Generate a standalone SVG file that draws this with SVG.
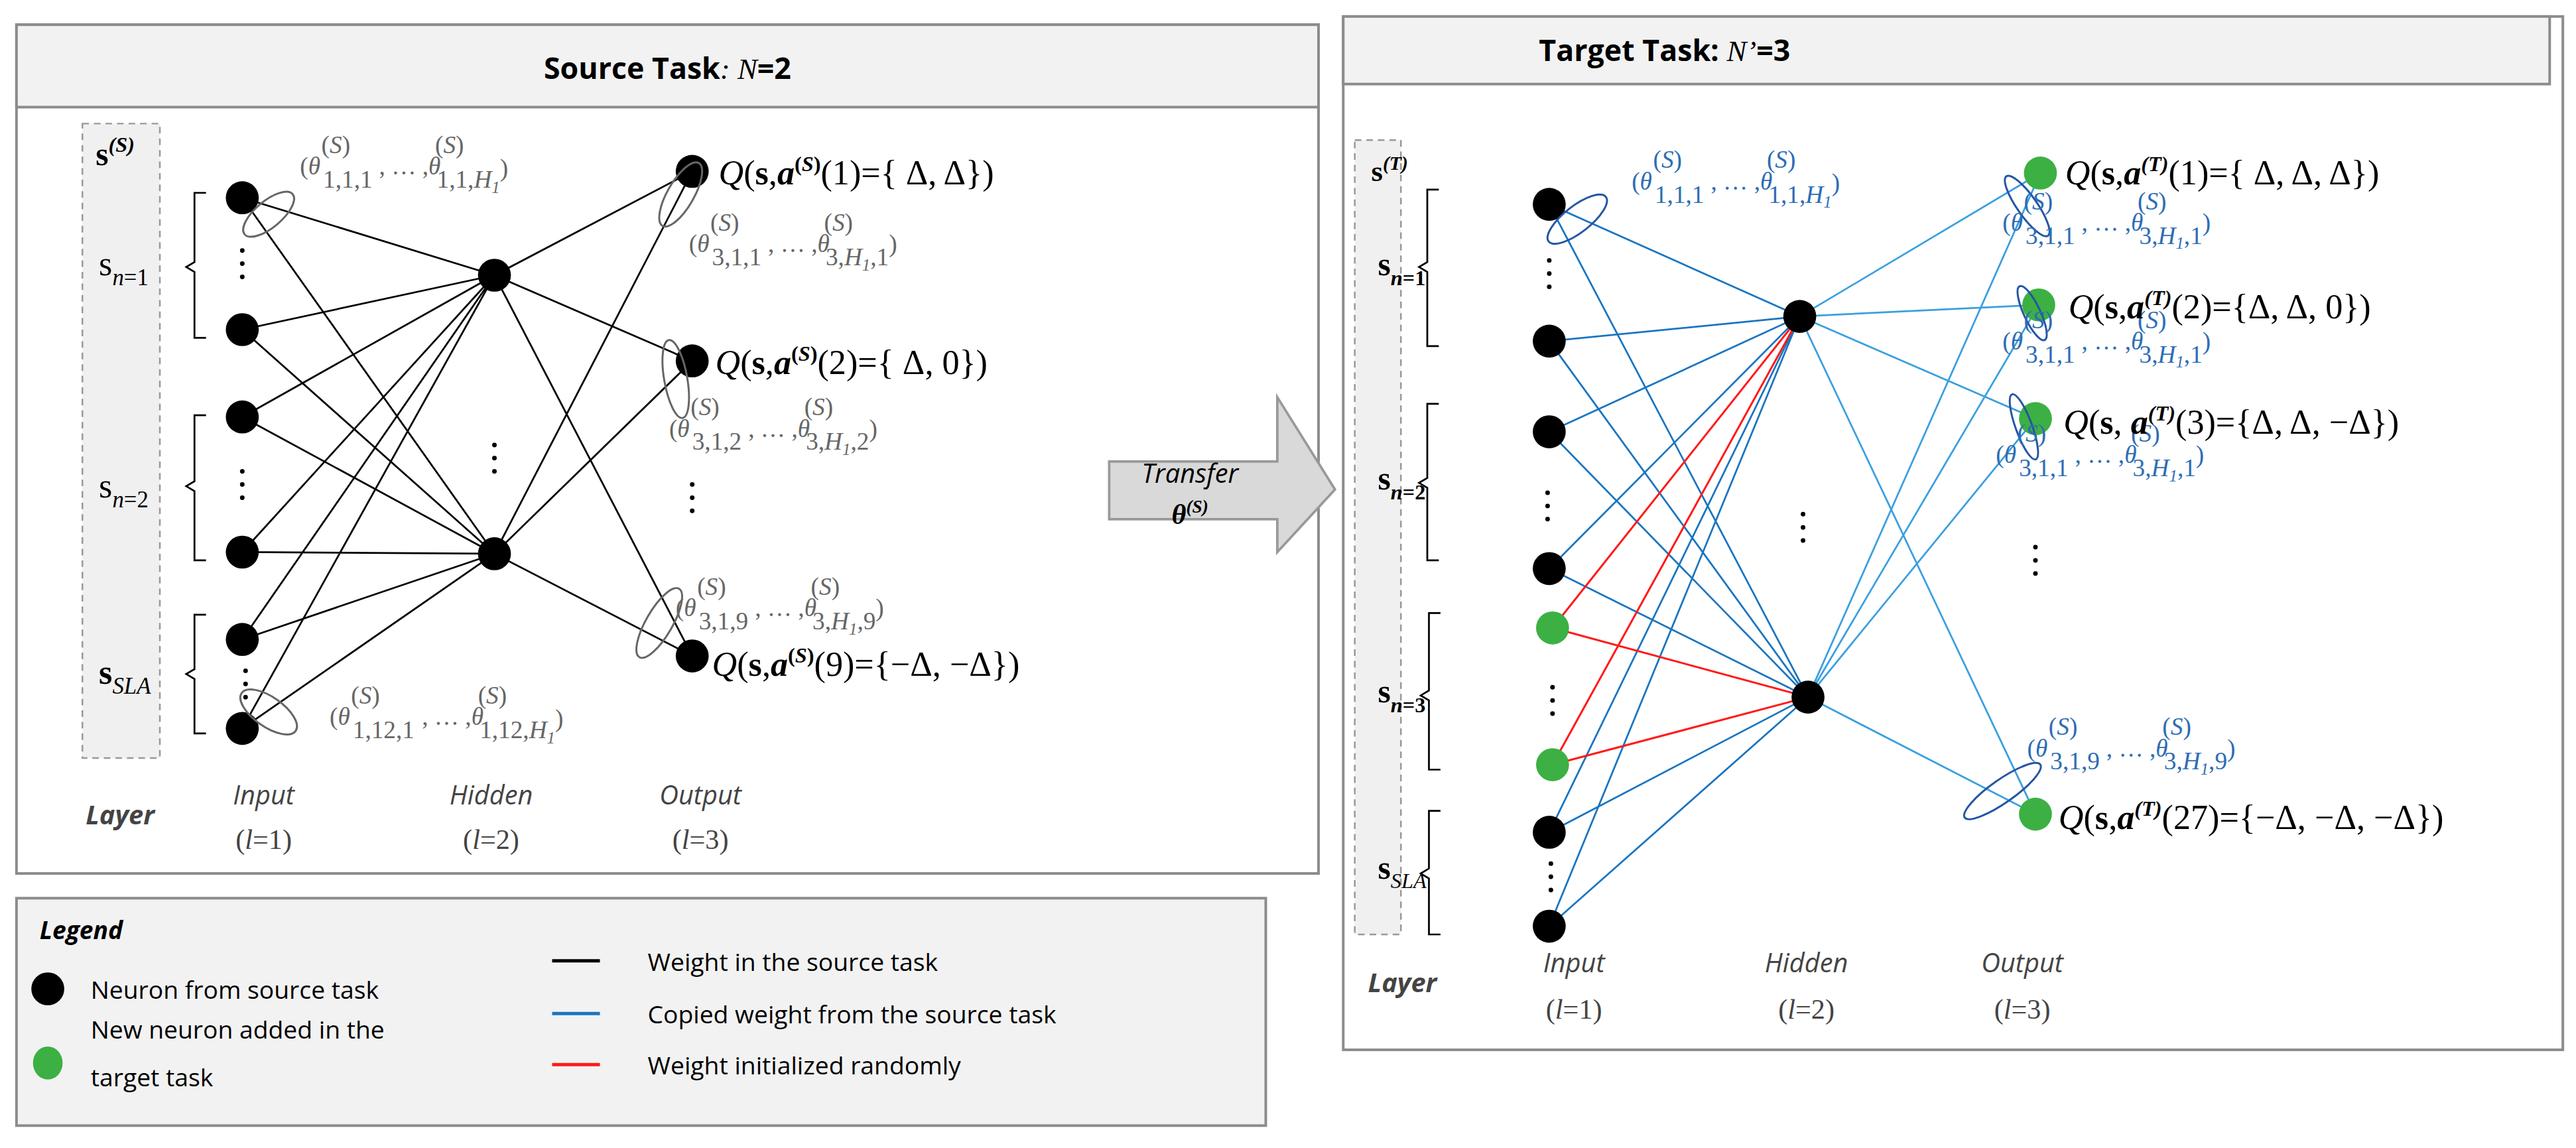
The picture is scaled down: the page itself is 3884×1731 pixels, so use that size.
<svg xmlns="http://www.w3.org/2000/svg" width="3884" height="1731" viewBox="0 0 3884 1731">
<style>
.box{fill:#fff;stroke:#8c8c8c;stroke-width:1.6}
.hdr{fill:#f2f2f2;stroke:#8c8c8c;stroke-width:1.6}
.dash{fill:#f0f0f0;stroke:#999;stroke-width:1;stroke-dasharray:4 3}
.nb{fill:#000}.ng{fill:#3cb043}
.wk{stroke:#000;stroke-width:1.1;fill:none}
.wb{stroke:#1a75c0;stroke-width:1.1;fill:none}
.wl{stroke:#3a9fe0;stroke-width:1.1;fill:none}
.wr{stroke:#ff1a1a;stroke-width:1.2;fill:none}
.br{stroke:#000;stroke-width:1.1;fill:none}
.el{fill:none;stroke:#666;stroke-width:1.2}
.elb{fill:none;stroke:#2456a4;stroke-width:1.2}
.sans{font-family:"Open Sans","Liberation Sans",sans-serif}
.ser{font-family:"Liberation Serif",serif}
.th{font-family:"Liberation Serif",serif;font-size:15px;fill:#666}
.thb{font-family:"Liberation Serif",serif;font-size:15px;fill:#2e6db4}
.q{font-family:"Liberation Serif",serif;font-size:21px;fill:#000}
.lay{font-family:"Open Sans","Liberation Sans",sans-serif;font-size:16px;font-style:italic;fill:#444}
.ll{font-family:"Liberation Serif",serif;font-size:17px;fill:#444}
</style>
<defs>
<g id="vd"><circle cx="0" cy="-8" r="1.4"/><circle cx="0" cy="0" r="1.4"/><circle cx="0" cy="8" r="1.4"/></g>
</defs>
<rect width="3884" height="1731" fill="#fff"/>
<g transform="scale(2.485)">
<g id="source-panel">
<rect class="box" x="10" y="15" width="790" height="515"/>
<rect class="hdr" x="10" y="15" width="790" height="50"/>
<text x="405" y="48" text-anchor="middle" class="sans" font-size="18" font-weight="bold">Source Task<tspan font-family="Liberation Serif" font-style="italic" font-weight="normal">: N</tspan>=2</text>
<rect class="dash" x="50" y="75" width="47" height="385"/>
<text x="58" y="100" class="ser" font-size="20" font-weight="bold">s<tspan dy="-8" font-size="13" font-style="italic">(S)</tspan></text>
<path class="br" d="M125,117 H118 V159 L113,162 L118,165 V205 H125"/>
<path class="br" d="M125,252 H118 V292 L113,295 L118,298 V340 H125"/>
<path class="br" d="M125,373 H118 V406 L113,409 L118,412 V445 H125"/>
<text x="60" y="167" class="ser" font-size="21">s<tspan dy="6" font-size="14"><tspan font-style="italic">n</tspan>=1</tspan></text>
<text x="60" y="302" class="ser" font-size="21">s<tspan dy="6" font-size="14"><tspan font-style="italic">n</tspan>=2</tspan></text>
<text x="60" y="415" class="ser" font-size="21" font-weight="bold">s<tspan dy="6" font-size="14" font-style="italic" font-weight="normal">SLA</tspan></text>
</g>
<g id="source-connectors">
<path class="wk" d="M147,120 L300,167 M147,120 L300,336 M147,200 L300,167 M147,200 L300,336 M147,253 L300,167 M147,253 L300,336 M147,335 L300,167 M147,335 L300,336 M147,388 L300,167 M147,388 L300,336 M147,442 L300,167 M147,442 L300,336 M300,167 L420,104 M300,167 L420,219 M300,167 L420,398 M300,336 L420,104 M300,336 L420,219 M300,336 L420,398"/>
</g>
<g id="source-nodes">
<circle class="nb" cx="147" cy="120" r="10"/><circle class="nb" cx="147" cy="200" r="10"/>
<circle class="nb" cx="147" cy="253" r="10"/><circle class="nb" cx="147" cy="335" r="10"/>
<circle class="nb" cx="147" cy="388" r="10"/><circle class="nb" cx="147" cy="442" r="10"/>
<circle class="nb" cx="300" cy="167" r="10"/><circle class="nb" cx="300" cy="336" r="10"/>
<circle class="nb" cx="420" cy="104" r="10"/><circle class="nb" cx="420" cy="219" r="10"/><circle class="nb" cx="420" cy="398" r="10"/>
<use href="#vd" x="147" y="160"/><use href="#vd" x="147" y="294"/><use href="#vd" x="149" y="415"/>
<use href="#vd" x="300" y="278"/><use href="#vd" x="420" y="302"/>
<ellipse class="el" cx="163" cy="130" rx="19" ry="8" transform="rotate(-40 163 130)"/>
<ellipse class="el" cx="413" cy="118" rx="22" ry="8" transform="rotate(-60 413 118)"/>
<ellipse class="el" cx="410" cy="230" rx="24" ry="7" transform="rotate(80 410 230)"/>
<ellipse class="el" cx="400" cy="378" rx="24" ry="8" transform="rotate(-60 400 378)"/>
<ellipse class="el" cx="163" cy="432" rx="20" ry="9" transform="rotate(35 163 432)"/>
</g>
<g id="source-labels">
<text x="182" y="106" class="th">(<tspan font-style="italic">θ</tspan></text><text x="195" y="93" class="th" font-size="12">(<tspan font-style="italic">S</tspan>)</text><text x="196" y="114" class="th">1,1,1</text><text x="230" y="106" class="th" font-size="11">, … ,<tspan font-size="15" font-style="italic">θ</tspan></text><text x="264" y="93" class="th" font-size="12">(<tspan font-style="italic">S</tspan>)</text><text x="265" y="114" class="th">1,1,<tspan font-style="italic">H</tspan><tspan font-size="10" font-style="italic" dy="3">1</tspan><tspan dy="-10">)</tspan></text>
<text x="418" y="153" class="th">(<tspan font-style="italic">θ</tspan></text><text x="431" y="140" class="th" font-size="12">(<tspan font-style="italic">S</tspan>)</text><text x="432" y="161" class="th">3,1,1</text><text x="466" y="153" class="th" font-size="11">, … ,<tspan font-size="15" font-style="italic">θ</tspan></text><text x="500" y="140" class="th" font-size="12">(<tspan font-style="italic">S</tspan>)</text><text x="501" y="161" class="th">3,<tspan font-style="italic">H</tspan><tspan font-size="10" font-style="italic" dy="3">1</tspan><tspan dy="-3">,1</tspan><tspan dy="-8">)</tspan></text>
<text x="406" y="265" class="th">(<tspan font-style="italic">θ</tspan></text><text x="419" y="252" class="th" font-size="12">(<tspan font-style="italic">S</tspan>)</text><text x="420" y="273" class="th">3,1,2</text><text x="454" y="265" class="th" font-size="11">, … ,<tspan font-size="15" font-style="italic">θ</tspan></text><text x="488" y="252" class="th" font-size="12">(<tspan font-style="italic">S</tspan>)</text><text x="489" y="273" class="th">3,<tspan font-style="italic">H</tspan><tspan font-size="10" font-style="italic" dy="3">1</tspan><tspan dy="-3">,2</tspan><tspan dy="-8">)</tspan></text>
<text x="410" y="374" class="th">(<tspan font-style="italic">θ</tspan></text><text x="423" y="361" class="th" font-size="12">(<tspan font-style="italic">S</tspan>)</text><text x="424" y="382" class="th">3,1,9</text><text x="458" y="374" class="th" font-size="11">, … ,<tspan font-size="15" font-style="italic">θ</tspan></text><text x="492" y="361" class="th" font-size="12">(<tspan font-style="italic">S</tspan>)</text><text x="493" y="382" class="th">3,<tspan font-style="italic">H</tspan><tspan font-size="10" font-style="italic" dy="3">1</tspan><tspan dy="-3">,9</tspan><tspan dy="-8">)</tspan></text>
<text x="200" y="440" class="th">(<tspan font-style="italic">θ</tspan></text><text x="213" y="427" class="th" font-size="12">(<tspan font-style="italic">S</tspan>)</text><text x="214" y="448" class="th">1,12,1</text><text x="256" y="440" class="th" font-size="11">, … ,<tspan font-size="15" font-style="italic">θ</tspan></text><text x="290" y="427" class="th" font-size="12">(<tspan font-style="italic">S</tspan>)</text><text x="291" y="448" class="th">1,12,<tspan font-style="italic">H</tspan><tspan font-size="10" font-style="italic" dy="3">1</tspan><tspan dy="-10">)</tspan></text>
<text x="436" y="112" class="q"><tspan font-style="italic">Q</tspan>(<tspan font-weight="bold">s</tspan>,<tspan font-weight="bold" font-style="italic">a</tspan><tspan dy="-8" font-size="13" font-weight="bold">(<tspan font-style="italic">S</tspan>)</tspan><tspan dy="8">(1)={ Δ, Δ})</tspan></text>
<text x="434" y="227" class="q"><tspan font-style="italic">Q</tspan>(<tspan font-weight="bold">s</tspan>,<tspan font-weight="bold" font-style="italic">a</tspan><tspan dy="-8" font-size="13" font-weight="bold">(<tspan font-style="italic">S</tspan>)</tspan><tspan dy="8">(2)={ Δ, 0})</tspan></text>
<text x="432" y="410" class="q"><tspan font-style="italic">Q</tspan>(<tspan font-weight="bold">s</tspan>,<tspan font-weight="bold" font-style="italic">a</tspan><tspan dy="-8" font-size="13" font-weight="bold">(<tspan font-style="italic">S</tspan>)</tspan><tspan dy="8">(9)={−Δ, −Δ})</tspan></text>
<text x="52" y="500" class="lay" font-weight="bold">Layer</text>
<text x="160" y="488" class="lay" text-anchor="middle">Input</text><text x="160" y="515" class="ll" text-anchor="middle">(<tspan font-style="italic">l</tspan>=1)</text>
<text x="298" y="488" class="lay" text-anchor="middle">Hidden</text><text x="298" y="515" class="ll" text-anchor="middle">(<tspan font-style="italic">l</tspan>=2)</text>
<text x="425" y="488" class="lay" text-anchor="middle">Output</text><text x="425" y="515" class="ll" text-anchor="middle">(<tspan font-style="italic">l</tspan>=3)</text>
</g>
<g id="transfer">
<path d="M673,280 H775 V241 L810,297 L775,335 V315 H673 Z" fill="#d9d9d9" stroke="#999" stroke-width="1.5"/>
<text x="722" y="293" text-anchor="middle" class="sans" font-size="16" font-style="italic">Transfer</text>
<text x="722" y="318" text-anchor="middle" class="ser" font-size="17" font-style="italic" font-weight="bold">θ<tspan dy="-7" font-size="11">(S)</tspan></text>
</g>
<g id="legend">
<rect x="10" y="545" width="758" height="138" fill="#f2f2f2" stroke="#8c8c8c" stroke-width="1.6"/>
<text x="24" y="570" class="sans" font-size="15" font-weight="bold" font-style="italic">Legend</text>
<ellipse class="nb" cx="29" cy="600" rx="10" ry="10"/>
<text x="55" y="606" class="sans" font-size="15">Neuron from source task</text>
<ellipse class="ng" cx="29" cy="645" rx="9" ry="10"/>
<text x="55" y="630" class="sans" font-size="15">New neuron added in the</text>
<text x="55" y="659" class="sans" font-size="15">target task</text>
<line x1="335" y1="583" x2="364" y2="583" stroke="#000" stroke-width="2"/>
<text x="393" y="589" class="sans" font-size="15">Weight in the source task</text>
<line x1="335" y1="615" x2="364" y2="615" stroke="#1a75c0" stroke-width="2"/>
<text x="393" y="621" class="sans" font-size="15">Copied weight from the source task</text>
<line x1="335" y1="646" x2="364" y2="646" stroke="#ff1a1a" stroke-width="2"/>
<text x="393" y="652" class="sans" font-size="15">Weight initialized randomly</text>
</g>
<g id="target-panel">
<rect class="box" x="815" y="10" width="740" height="627"/>
<rect class="hdr" x="815" y="10" width="732" height="41"/>
<text x="1010" y="37" text-anchor="middle" class="sans" font-size="18" font-weight="bold">Target Task: <tspan font-family="Liberation Serif" font-style="italic" font-weight="normal">N’</tspan>=3</text>
<rect class="dash" x="822" y="85" width="28" height="482"/>
<text x="832" y="110" class="ser" font-size="18" font-weight="bold">s<tspan dy="-7" font-size="12" font-style="italic">(T)</tspan></text>
<path class="br" d="M873,115 H866 V159 L861,162 L866,165 V210 H873"/>
<path class="br" d="M873,245 H866 V290 L861,293 L866,296 V340 H873"/>
<path class="br" d="M874,372 H867 V419 L862,422 L867,425 V467 H874"/>
<path class="br" d="M874,492 H867 V527 L862,530 L867,533 V567 H874"/>
<text x="836" y="167" class="ser" font-size="20" font-weight="bold">s<tspan dy="6" font-size="13"><tspan font-style="italic">n</tspan>=1</tspan></text>
<text x="836" y="297" class="ser" font-size="20" font-weight="bold">s<tspan dy="6" font-size="13"><tspan font-style="italic">n</tspan>=2</tspan></text>
<text x="836" y="426" class="ser" font-size="20" font-weight="bold">s<tspan dy="6" font-size="13"><tspan font-style="italic">n</tspan>=3</tspan></text>
<text x="836" y="533" class="ser" font-size="20" font-weight="bold">s<tspan dy="6" font-size="13" font-style="italic" font-weight="normal">SLA</tspan></text>
</g>
<g id="target-connectors">
<path class="wb" d="M940,124 L1092,192 M940,124 L1097,423 M940,207 L1092,192 M940,207 L1097,423 M940,262 L1092,192 M940,262 L1097,423 M940,345 L1092,192 M940,345 L1097,423 M940,505 L1092,192 M940,505 L1097,423 M940,562 L1092,192 M940,562 L1097,423"/>
<path class="wr" d="M942,381 L1092,192 M942,381 L1097,423 M942,464 L1092,192 M942,464 L1097,423"/>
<path class="wl" d="M1092,192 L1238,105 M1092,192 L1237,185 M1092,192 L1235,254 M1092,192 L1235,494 M1097,423 L1238,105 M1097,423 L1237,185 M1097,423 L1235,254 M1097,423 L1235,494"/>
</g>
<g id="target-nodes">
<circle class="nb" cx="940" cy="124" r="10"/><circle class="nb" cx="940" cy="207" r="10"/>
<circle class="nb" cx="940" cy="262" r="10"/><circle class="nb" cx="940" cy="345" r="10"/>
<circle class="ng" cx="942" cy="381" r="10"/><circle class="ng" cx="942" cy="464" r="10"/>
<circle class="nb" cx="940" cy="505" r="10"/><circle class="nb" cx="940" cy="562" r="10"/>
<circle class="nb" cx="1092" cy="192" r="10"/><circle class="nb" cx="1097" cy="423" r="10"/>
<circle class="ng" cx="1238" cy="105" r="10"/><circle class="ng" cx="1237" cy="185" r="10"/><circle class="ng" cx="1235" cy="254" r="10"/><circle class="ng" cx="1235" cy="494" r="10"/>
<use href="#vd" x="940" y="166"/><use href="#vd" x="939" y="307"/><use href="#vd" x="942" y="425"/><use href="#vd" x="941" y="532"/>
<use href="#vd" x="1094" y="320"/><use href="#vd" x="1235" y="340"/>
<ellipse class="elb" cx="957" cy="133" rx="22" ry="8" transform="rotate(-38 957 133)"/>
<ellipse class="elb" cx="1230" cy="125" rx="22" ry="6" transform="rotate(55 1230 125)"/>
<ellipse class="elb" cx="1233" cy="190" rx="18" ry="5" transform="rotate(65 1233 190)"/>
<ellipse class="elb" cx="1228" cy="259" rx="21" ry="5" transform="rotate(70 1228 259)"/>
<ellipse class="elb" cx="1215" cy="480" rx="28" ry="7" transform="rotate(-35 1215 480)"/>
</g>
<g id="target-labels">
<text x="990" y="115" class="thb">(<tspan font-style="italic">θ</tspan></text><text x="1003" y="102" class="thb" font-size="12">(<tspan font-style="italic">S</tspan>)</text><text x="1004" y="123" class="thb">1,1,1</text><text x="1038" y="115" class="thb" font-size="11">, … ,<tspan font-size="15" font-style="italic">θ</tspan></text><text x="1072" y="102" class="thb" font-size="12">(<tspan font-style="italic">S</tspan>)</text><text x="1073" y="123" class="thb">1,1,<tspan font-style="italic">H</tspan><tspan font-size="10" font-style="italic" dy="3">1</tspan><tspan dy="-10">)</tspan></text>
<text x="1215" y="140" class="thb">(<tspan font-style="italic">θ</tspan></text><text x="1228" y="127" class="thb" font-size="12">(<tspan font-style="italic">S</tspan>)</text><text x="1229" y="148" class="thb">3,1,1</text><text x="1263" y="140" class="thb" font-size="11">, … ,<tspan font-size="15" font-style="italic">θ</tspan></text><text x="1297" y="127" class="thb" font-size="12">(<tspan font-style="italic">S</tspan>)</text><text x="1298" y="148" class="thb">3,<tspan font-style="italic">H</tspan><tspan font-size="10" font-style="italic" dy="3">1</tspan><tspan dy="-3">,1</tspan><tspan dy="-8">)</tspan></text>
<text x="1215" y="212" class="thb">(<tspan font-style="italic">θ</tspan></text><text x="1228" y="199" class="thb" font-size="12">(<tspan font-style="italic">S</tspan>)</text><text x="1229" y="220" class="thb">3,1,1</text><text x="1263" y="212" class="thb" font-size="11">, … ,<tspan font-size="15" font-style="italic">θ</tspan></text><text x="1297" y="199" class="thb" font-size="12">(<tspan font-style="italic">S</tspan>)</text><text x="1298" y="220" class="thb">3,<tspan font-style="italic">H</tspan><tspan font-size="10" font-style="italic" dy="3">1</tspan><tspan dy="-3">,1</tspan><tspan dy="-8">)</tspan></text>
<text x="1211" y="281" class="thb">(<tspan font-style="italic">θ</tspan></text><text x="1224" y="268" class="thb" font-size="12">(<tspan font-style="italic">S</tspan>)</text><text x="1225" y="289" class="thb">3,1,1</text><text x="1259" y="281" class="thb" font-size="11">, … ,<tspan font-size="15" font-style="italic">θ</tspan></text><text x="1293" y="268" class="thb" font-size="12">(<tspan font-style="italic">S</tspan>)</text><text x="1294" y="289" class="thb">3,<tspan font-style="italic">H</tspan><tspan font-size="10" font-style="italic" dy="3">1</tspan><tspan dy="-3">,1</tspan><tspan dy="-8">)</tspan></text>
<text x="1230" y="459" class="thb">(<tspan font-style="italic">θ</tspan></text><text x="1243" y="446" class="thb" font-size="12">(<tspan font-style="italic">S</tspan>)</text><text x="1244" y="467" class="thb">3,1,9</text><text x="1278" y="459" class="thb" font-size="11">, … ,<tspan font-size="15" font-style="italic">θ</tspan></text><text x="1312" y="446" class="thb" font-size="12">(<tspan font-style="italic">S</tspan>)</text><text x="1313" y="467" class="thb">3,<tspan font-style="italic">H</tspan><tspan font-size="10" font-style="italic" dy="3">1</tspan><tspan dy="-3">,9</tspan><tspan dy="-8">)</tspan></text>
<text x="1253" y="112" class="q"><tspan font-style="italic">Q</tspan>(<tspan font-weight="bold">s</tspan>,<tspan font-weight="bold" font-style="italic">a</tspan><tspan dy="-8" font-size="13" font-weight="bold" font-style="italic">(T)</tspan><tspan dy="8">(1)={ Δ, Δ, Δ})</tspan></text>
<text x="1255" y="193" class="q"><tspan font-style="italic">Q</tspan>(<tspan font-weight="bold">s</tspan>,<tspan font-weight="bold" font-style="italic">a</tspan><tspan dy="-8" font-size="13" font-weight="bold" font-style="italic">(T)</tspan><tspan dy="8">(2)={Δ, Δ, 0})</tspan></text>
<text x="1252" y="263" class="q"><tspan font-style="italic">Q</tspan>(<tspan font-weight="bold">s</tspan>, <tspan font-weight="bold" font-style="italic">a</tspan><tspan dy="-8" font-size="13" font-weight="bold" font-style="italic">(T)</tspan><tspan dy="8">(3)={Δ, Δ, −Δ})</tspan></text>
<text x="1249" y="503" class="q"><tspan font-style="italic">Q</tspan>(<tspan font-weight="bold">s</tspan>,<tspan font-weight="bold" font-style="italic">a</tspan><tspan dy="-8" font-size="13" font-weight="bold" font-style="italic">(T)</tspan><tspan dy="8">(27)={−Δ, −Δ, −Δ})</tspan></text>
<text x="830" y="602" class="lay" font-weight="bold">Layer</text>
<text x="955" y="590" class="lay" text-anchor="middle">Input</text><text x="955" y="618" class="ll" text-anchor="middle">(<tspan font-style="italic">l</tspan>=1)</text>
<text x="1096" y="590" class="lay" text-anchor="middle">Hidden</text><text x="1096" y="618" class="ll" text-anchor="middle">(<tspan font-style="italic">l</tspan>=2)</text>
<text x="1227" y="590" class="lay" text-anchor="middle">Output</text><text x="1227" y="618" class="ll" text-anchor="middle">(<tspan font-style="italic">l</tspan>=3)</text>
</g>
</g>
</svg>
